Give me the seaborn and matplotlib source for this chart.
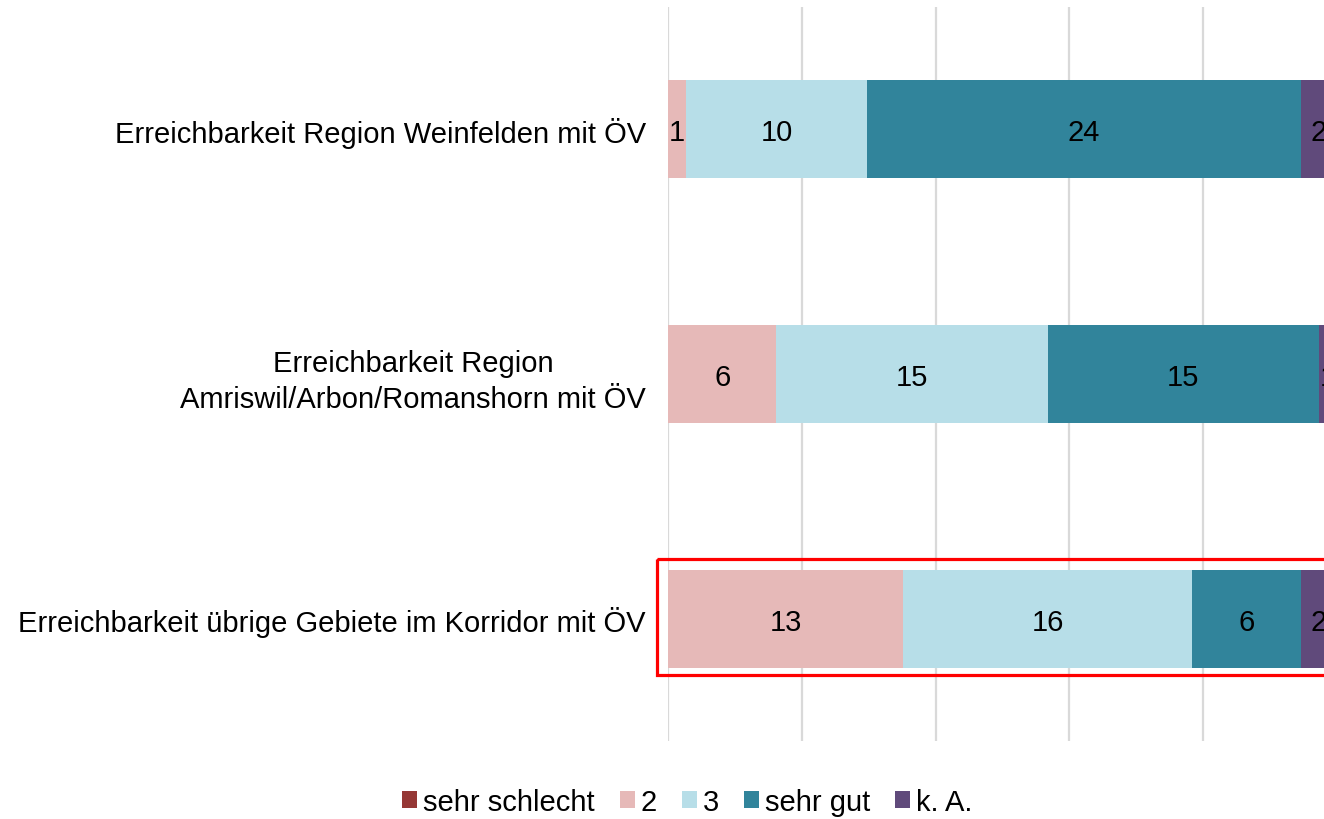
import matplotlib
matplotlib.use("Agg")
import matplotlib.pyplot as plt
import seaborn as sns
import numpy as np
import pandas as pd
from matplotlib.patches import Patch, Rectangle

sns.set_theme(style="white")
plt.rcParams['font.family'] = ['Liberation Sans', 'DejaVu Sans']

categories = [
    "Erreichbarkeit Region Weinfelden mit ÖV",
    "Erreichbarkeit Region\nAmriswil/Arbon/Romanshorn mit ÖV",
    "Erreichbarkeit übrige Gebiete im Korridor mit ÖV",
]
series_names = ["sehr schlecht", "2", "3", "sehr gut", "k. A."]
sehr_schlecht = [0, 0, 0]
zwei = [1, 6, 13]
drei = [10, 15, 16]
sehr_gut = [24, 15, 6]
ka = [2, 1, 2]
colors = ["#953735", "#E6B9B8", "#B7DEE8", "#31849B", "#604A7B"]

FS = 21

values = np.array([sehr_schlecht, zwei, drei, sehr_gut, ka], dtype=float)
totals = values.sum(axis=0)
pct = values / totals * 100
cum = np.cumsum(pct, axis=0)

fig = plt.figure(figsize=(13.24, 8.2), dpi=100)
ax = fig.add_axes([668/1324, 1 - 742/820, 656/1324, 734/820])

# draw stacked bars: longest cumulative first, overlay shorter ones
for i in range(len(series_names) - 1, -1, -1):
    df = pd.DataFrame({"cat": categories, "val": cum[i]})
    sns.barplot(data=df, y="cat", x="val", orient="h", color=colors[i],
                width=0.4, linewidth=0, ax=ax, saturation=1, zorder=2)

# value labels (the rightmost ones are cut by the figure edge, as in the reference)
for i in range(len(series_names)):
    for j in range(len(categories)):
        v = values[i, j]
        if v > 0:
            center = cum[i, j] - pct[i, j] / 2
            ax.text(center, j, f"{int(v)}", ha="center", va="center_baseline",
                    fontsize=FS, color="black", zorder=5, clip_on=False)

ax.set_xticks([0, 20, 40, 60, 80, 100])
ax.set_xticklabels([])
ax.set_xlim(0, 656 / 669 * 100)
ax.set_ylim(2.5, -0.5)
ax.xaxis.grid(True, color="#D9D9D9", linewidth=1.6, zorder=0)
ax.yaxis.grid(False)
ax.set_axisbelow(True)
for s in ax.spines.values():
    s.set_visible(False)
ax.set_xlabel("")
ax.set_ylabel("")
ax.tick_params(axis="y", length=0, pad=16, labelsize=FS)
ax.tick_params(axis="x", length=0)
for lbl in ax.get_yticklabels():
    lbl.set_multialignment("center")
    lbl.set_linespacing(1.35)
    lbl.set_color("black")

# red highlight box
rect = Rectangle((-1.6, 1.756), 110, 0.474, fill=False, edgecolor="#FF0000",
                 linewidth=2.3, clip_on=False, zorder=6)
ax.add_patch(rect)

handles = [Patch(facecolor=c, edgecolor="none", label=n) for c, n in zip(colors, series_names)]
fig.legend(handles=handles, loc="center", bbox_to_anchor=(0.519, 0.021), ncol=5,
           frameon=False, fontsize=FS, handlelength=0.52, handleheight=0.52,
           handletextpad=0.2, columnspacing=0.85, labelcolor="black")

fig.savefig("out.png", dpi=100)
